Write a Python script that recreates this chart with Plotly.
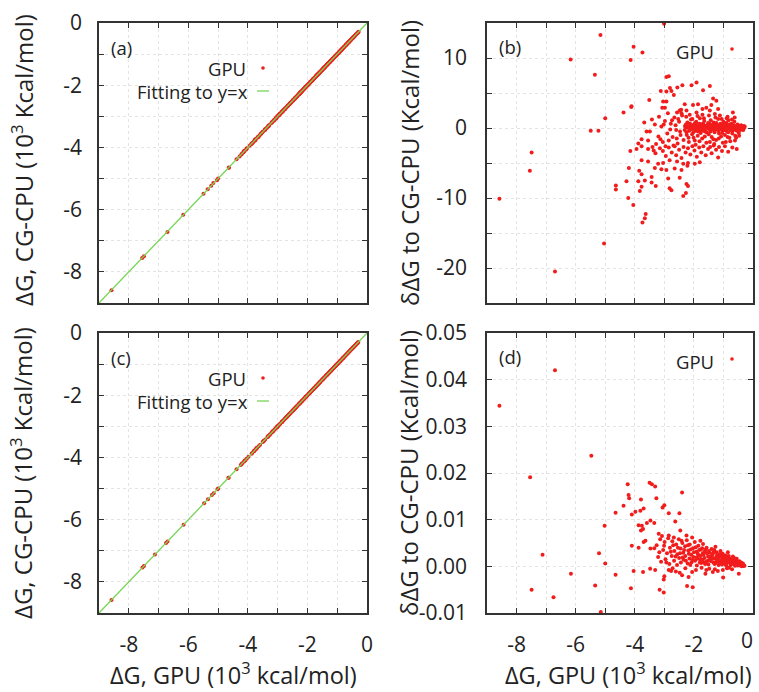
import plotly.graph_objects as go

W, H = 759, 692
FONT = "Open Sans"

# ---------------- data ----------------
# panel (b): GPU dG (10^3 kcal/mol), deltaG difference to CG-CPU (kcal/mol)
b_points = [
    (-8.58, -10.1), (-7.55, -6.1), (-7.49, -3.5), (-6.70, -20.5), (-6.17, 9.8),
    (-5.16, 13.3), (-5.35, 7.6), (-5.49, -0.4), (-5.23, -0.4), (-5.00, 1.4),
    (-5.04, -16.5), (-4.14, 9.7), (-4.04, 11.6), (-3.74, 10.8), (-3.01, 14.9),
    (-4.38, 2.2), (-4.12, 3.0), (-4.15, -3.3), (-4.64, -8.2), (-4.64, -8.8),
    (-4.28, -7.6), (-4.20, -5.7), (-4.22, -10.0), (-4.05, -11.0), (-3.63, -12.3),
    (-3.66, -12.9), (-3.74, -13.5), (-3.88, -7.6), (-3.66, -7.5), (-3.43, -7.8),
    (-3.29, -8.3), (-3.77, -8.4), (-3.83, -9.0), (-3.85, -6.1), (-3.77, -6.6),
    (-3.43, -7.0), (-2.87, -7.2), (-2.48, -7.1), (-2.82, -8.6), (-2.76, -8.9),
    (-2.25, -8.0), (-2.20, -8.3), (-2.27, -9.3), (-2.36, -9.7), (-3.32, -5.7),
    (-3.10, -5.9), (-2.93, -6.0), (-2.65, -5.8), (-2.42, -6.0), (-2.22, -5.4),
    (-3.77, -4.6), (-3.55, -4.8), (-3.21, -5.1), (-3.04, -5.0), (-2.82, -4.6),
    (-2.57, -4.8), (-2.36, -5.1), (-2.20, -5.0), (-1.97, -5.1), (-1.80, -4.9),
    (-0.84, -3.4), (-1.18, -4.2),
    (-3.77, -2.6), (-3.55, -3.0), (-3.40, -2.7), (-3.30, -3.6), (-3.15, -2.9),
    (-3.05, -3.3), (-2.95, -4.0), (-2.85, -2.8), (-2.75, -3.5), (-2.65, -2.6),
    (-2.60, -3.9), (-2.50, -3.1), (-2.42, -4.3), (-2.35, -2.7), (-2.28, -3.5),
    (-2.20, -2.9), (-2.12, -3.8), (-2.05, -2.6), (-1.98, -3.2), (-1.90, -4.1),
    (-1.82, -2.8), (-1.75, -3.5), (-1.68, -2.6), (-1.60, -3.9), (-1.52, -3.0),
    (-1.45, -2.7), (-1.40, -3.6), (-1.33, -2.5), (-1.25, -3.1), (-1.15, -2.7),
    (-1.05, -3.3), (-0.95, -2.6), (-0.70, -2.8), (-0.55, -3.0),
    (-2.93, 7.3), (-2.85, 7.4), (-4.11, 3.1), (-3.51, 4.0), (-3.12, 5.3),
    (-2.81, 5.7), (-2.56, 5.8), (-2.39, 6.1), (-2.08, 6.1), (-1.91, 6.5),
    (-1.46, 6.0), (-2.93, 5.2), (-2.76, 5.3), (-2.68, 4.7), (-1.69, 5.4),
    (-1.35, 4.2), (-1.24, 3.9), (-3.04, 3.8), (-2.93, 3.8), (-3.07, 2.9),
    (-2.98, 2.9), (-2.31, 3.4), (-2.48, 2.5), (-2.57, 2.2), (-2.42, 2.1),
    (-2.25, 2.5), (-2.03, 3.3), (-1.86, 3.4), (-1.71, 2.7), (-1.91, 2.2),
    (-1.58, 2.9), (-1.46, 2.5), (-1.41, 3.3), (-1.29, 2.0), (-1.18, 2.7),
    (-0.68, 2.2), (-0.62, 1.5), (-3.32, 0.5), (-3.49, -0.5), (-3.60, -0.5),
    (-3.77, -1.6), (-3.88, -2.2), (-3.94, -3.0),
    (-3.20, -1.2), (-3.10, 0.2), (-3.05, -2.0), (-2.98, 1.0), (-2.90, -0.8),
    (-2.85, -1.8), (-2.78, 0.6), (-2.72, -1.3), (-2.66, 1.5), (-2.60, -0.3),
    (-2.55, -2.2), (-2.50, 0.9), (-2.45, -1.0), (-2.40, 1.8), (-2.35, -1.7),
    (-2.30, 0.3),
    (-2.28, 0.1), (-2.25, -0.6), (-2.22, 0.8), (-2.18, -1.4), (-2.15, 0.3),
    (-2.12, -0.2), (-2.10, 1.2), (-2.06, -0.9), (-2.03, 0.0), (-2.00, 0.5),
    (-1.97, -1.8), (-1.95, -0.4), (-1.92, 0.9), (-1.90, 0.1), (-1.87, -1.1),
    (-1.85, 0.4), (-1.82, -0.2), (-1.80, 1.4), (-1.77, -0.7), (-1.75, 0.2),
    (-1.72, -1.5), (-1.70, 0.6), (-1.68, -0.1), (-1.65, 1.0), (-1.62, -0.5),
    (-1.60, 0.3), (-1.58, -2.1), (-1.55, 0.0), (-1.52, 0.7), (-1.50, -0.9),
    (-1.48, 0.2), (-1.45, -0.3), (-1.43, 1.1), (-1.40, -1.3), (-1.38, 0.4),
    (-1.35, -0.1), (-1.33, 0.8), (-1.30, -0.6), (-1.28, 0.1), (-1.25, -1.7),
    (-1.23, 0.5), (-1.20, -0.2), (-1.18, 1.3), (-1.15, -0.8), (-1.13, 0.0),
    (-1.10, 0.6), (-1.08, -1.2), (-1.05, 0.3), (-1.03, -0.4), (-1.00, 0.9),
    (-0.98, -0.1), (-0.95, -1.0), (-0.93, 0.2), (-0.90, 0.7), (-0.88, -0.5),
    (-0.85, 0.0), (-0.83, 1.1), (-0.80, -1.4), (-0.78, 0.3), (-0.75, -0.3),
    (-0.73, 0.6), (-0.70, -0.8), (-0.68, 0.1), (-0.65, -0.2), (-0.63, 0.9),
    (-0.60, -1.1), (-0.58, 0.3), (-0.55, -0.4), (-0.52, 0.5), (-0.50, 0.0),
    (-0.48, -0.7), (-0.45, 0.2), (-0.43, -0.2), (-0.40, 0.4), (-0.38, -0.1),
    (-0.35, 0.1), (-0.33, -0.3), (-0.30, 0.0), (-0.28, 0.2),
    (-2.21, 0.05), (-2.04, -0.1), (-1.83, 0.0), (-1.63, 0.15), (-1.41, 0.0),
    (-1.22, 0.1), (-1.01, -0.05), (-0.81, 0.05), (-0.62, 0.0), (-0.46, 0.05),
    (-1.94, -2.4), (-1.31, -2.3), (-0.92, -2.0), (-0.61, -1.8), (-1.71, 1.9),
    (-1.12, 1.8), (-0.86, 1.6), (-2.14, 1.9),
    (-2.31, -0.3), (-2.27, 0.5), (-2.24, -1.0), (-2.19, 0.2), (-2.16, -0.4),
    (-2.13, 0.6), (-2.09, -0.1), (-2.07, 0.3), (-2.02, -0.6), (-1.99, 0.2),
    (-1.96, 0.7), (-1.93, -0.2), (-1.89, 0.4), (-1.86, -0.5), (-1.84, 0.1),
    (-1.81, 0.6), (-1.78, -0.3), (-1.76, 0.3), (-1.73, 0.0), (-1.69, -0.4),
    (-1.67, 0.5), (-1.64, -0.1), (-1.61, 0.2), (-1.57, -0.6), (-1.54, 0.4),
    (-1.51, -0.1), (-1.47, 0.6), (-1.44, -0.5), (-1.42, 0.2), (-1.39, -0.2),
    (-1.36, 0.5), (-1.32, -0.3), (-1.29, 0.3), (-1.26, -0.1), (-1.24, 0.7),
    (-1.21, 0.0), (-1.17, -0.4), (-1.14, 0.4), (-1.11, -0.2), (-1.07, 0.1),
    (-1.04, -0.7), (-1.02, 0.5), (-0.99, 0.2), (-0.96, -0.3), (-0.94, 0.6),
    (-0.91, -0.1), (-0.87, 0.3), (-0.84, -0.6), (-0.82, 0.1), (-0.79, 0.5),
    (-0.76, -0.2), (-0.72, 0.2), (-0.69, -0.4), (-0.66, 0.4), (-0.64, 0.0),
    (-0.59, -0.2), (-0.56, 0.2), (-0.53, -0.1), (-0.49, 0.3), (-0.44, -0.3),
    (-0.41, 0.1), (-0.36, -0.2), (-0.31, 0.3),
    (-2.26, 1.6), (-2.05, 1.3), (-1.88, 1.7), (-1.66, 1.4), (-1.49, 1.8),
    (-1.27, 1.5), (-1.06, 1.3), (-0.89, 1.4), (-0.71, 1.2), (-2.17, -2.0),
    (-2.01, -1.4), (-1.81, -1.9), (-1.63, -1.2), (-1.46, -2.0), (-1.34, -1.6),
    (-1.16, -1.5), (-1.02, -2.1), (-0.86, -1.3), (-0.77, -1.9), (-0.57, -1.4),
    (-0.47, -1.1),
    (-3.28, -2.3), (-3.18, 1.6), (-3.13, -1.6), (-3.02, 0.5), (-2.96, -2.6),
    (-2.88, 2.1), (-2.80, -0.2), (-2.74, 1.1), (-2.69, -2.5), (-2.62, 0.4),
    (-2.58, -1.5), (-2.53, 1.3), (-2.47, -0.5), (-2.43, 2.6), (-3.42, 1.2),
    (-3.55, -1.8), (-3.68, 0.8), (-3.36, -3.2),
]

# panel (d): GPU dG (10^3 kcal/mol), deltaG difference to CG-CPU (kcal/mol)
d_points = [
    (-8.58, 0.0344), (-6.70, 0.0420), (-7.54, 0.0191), (-5.47, 0.0237),
    (-7.12, 0.0025), (-7.49, -0.0050), (-6.75, -0.0066), (-6.16, -0.0016),
    (-5.34, -0.0041), (-5.21, 0.0028), (-5.00, 0.0006), (-5.02, 0.0087),
    (-4.65, 0.0115), (-4.65, -0.0018), (-5.15, -0.0098),
    (-4.24, 0.0176), (-3.50, 0.0179), (-3.42, 0.0176), (-3.31, 0.0171),
    (-2.40, 0.0158), (-4.21, 0.0153), (-4.19, 0.0146), (-3.79, 0.0143),
    (-3.27, 0.0146), (-4.38, 0.0130), (-3.81, 0.0119), (-3.70, 0.0124),
    (-3.98, 0.0117), (-4.10, 0.0111), (-3.00, 0.0131), (-3.06, 0.0126),
    (-2.85, 0.0114), (-2.49, 0.0114), (-3.87, 0.0088), (-3.76, 0.0087),
    (-3.47, 0.0098), (-3.59, 0.0093), (-3.34, 0.0093), (-2.63, 0.0096),
    (-3.79, 0.0077), (-3.72, 0.0080), (-3.19, 0.0070), (-3.08, 0.0065),
    (-2.46, 0.0077), (-4.10, 0.0044), (-2.85, 0.0066), (-2.68, 0.0062),
    (-2.25, 0.0066), (-2.06, 0.0062), (-1.78, 0.0055), (-3.64, 0.0055),
    (-3.70, 0.0052), (-3.87, 0.0040), (-3.47, 0.0038), (-3.34, 0.0039),
    (-4.13, -0.0047), (-4.04, -0.0010), (-3.72, -0.0012), (-3.48, -0.0005),
    (-3.31, -0.0008), (-3.00, -0.0021), (-3.02, -0.0028), (-3.16, -0.0050),
    (-3.02, -0.0056), (-2.48, -0.0014), (-2.40, -0.0019), (-2.18, -0.0023),
    (-2.23, -0.0042), (-2.04, -0.0045), (-1.61, -0.0016), (-1.01, -0.0024),
    (-0.48, -0.0016), (-2.85, -0.0008), (-2.77, -0.0010),
    (-3.26, 0.0045), (-3.21, 0.0020), (-3.14, 0.0058), (-3.11, 0.0010),
    (-3.04, 0.0035), (-2.99, 0.0052), (-2.96, 0.0015), (-2.91, 0.0028),
    (-2.87, 0.0060), (-2.83, 0.0005), (-2.81, 0.0040), (-2.75, 0.0022),
    (-2.73, 0.0054), (-2.67, 0.0012), (-2.66, 0.0033), (-2.60, 0.0047),
    (-2.57, 0.0003), (-2.56, 0.0026), (-2.51, 0.0058), (-2.50, 0.0018),
    (-2.45, 0.0038), (-2.44, 0.0008), (-2.39, 0.0050), (-2.36, 0.0029),
    (-2.35, 0.0014), (-2.30, 0.0043), (-2.29, 0.0022), (-2.24, 0.0056),
    (-2.21, 0.0006), (-2.19, 0.0034), (-2.15, 0.0017), (-2.14, 0.0047),
    (-2.09, 0.0025), (-2.08, 0.0009), (-2.03, 0.0039), (-2.02, 0.0020),
    (-1.97, 0.0052), (-1.96, 0.0012), (-1.91, 0.0031), (-1.90, 0.0002),
    (-1.85, 0.0044), (-1.84, 0.0024), (-1.79, 0.0015), (-1.76, 0.0036),
    (-1.75, 0.0007), (-1.70, 0.0028), (-1.69, 0.0048), (-1.64, 0.0018),
    (-1.63, 0.0032), (-1.58, 0.0010), (-1.57, 0.0040), (-1.52, 0.0021),
    (-1.51, 0.0004), (-1.46, 0.0029), (-1.45, 0.0014), (-1.40, 0.0037),
    (-1.39, 0.0022), (-1.34, 0.0008), (-1.33, 0.0030), (-1.28, 0.0016),
    (-1.27, 0.0042), (-1.22, 0.0011), (-1.21, 0.0025), (-1.16, 0.0003),
    (-1.15, 0.0020), (-1.10, 0.0033), (-1.09, 0.0009), (-1.04, 0.0018),
    (-1.03, 0.0027), (-0.98, 0.0006), (-0.97, 0.0015), (-0.92, 0.0023),
    (-0.91, 0.0002), (-0.86, 0.0012), (-0.85, 0.0030), (-0.80, 0.0008),
    (-0.79, 0.0017), (-0.74, 0.0004), (-0.73, 0.0011), (-0.68, 0.0021),
    (-0.67, 0.0006), (-0.62, 0.0013), (-0.61, 0.0001), (-0.56, 0.0009),
    (-0.55, 0.0016), (-0.50, 0.0004), (-0.49, 0.0008), (-0.44, 0.0002),
    (-0.43, 0.0006), (-0.38, 0.0000), (-0.37, 0.0004), (-0.32, 0.0001),
    (-0.31, 0.0002), (-1.93, -0.0008), (-1.48, -0.0005), (-1.19, -0.0010),
    (-0.88, -0.0004), (-2.61, -0.0011), (-1.74, -0.0003), (-0.71, -0.0006),
    (-1.36, -0.0012), (-2.12, 0.0003), (-1.88, 0.0016), (-1.66, 0.0009),
    (-1.43, 0.0019), (-1.25, 0.0007), (-1.06, 0.0013), (-0.95, 0.0009),
    (-2.33, 0.0035), (-2.27, 0.0012), (-2.20, 0.0045), (-2.17, 0.0027),
    (-2.11, 0.0036), (-2.05, 0.0014), (-2.00, 0.0030), (-1.94, 0.0041),
    (-1.92, 0.0019), (-1.87, 0.0027), (-1.82, 0.0035), (-1.80, 0.0008),
    (-1.77, 0.0022), (-1.72, 0.0039), (-1.71, 0.0014), (-1.67, 0.0025),
    (-1.62, 0.0005), (-1.60, 0.0036), (-1.55, 0.0028), (-1.53, 0.0012),
    (-1.49, 0.0033), (-1.47, 0.0020), (-1.42, 0.0011), (-1.37, 0.0026),
    (-1.35, 0.0017), (-1.31, 0.0035), (-1.30, 0.0005), (-1.24, 0.0021),
    (-1.23, 0.0030), (-1.18, 0.0014), (-1.13, 0.0026), (-1.12, 0.0008),
    (-1.08, 0.0021), (-1.05, 0.0004), (-1.00, 0.0016), (-0.99, 0.0024),
    (-0.94, 0.0012), (-0.90, 0.0018), (-0.89, 0.0007), (-0.83, 0.0014),
    (-0.82, 0.0022), (-0.77, 0.0010), (-0.76, 0.0003), (-0.70, 0.0015),
    (-0.65, 0.0009), (-0.64, 0.0018), (-0.59, 0.0006), (-0.58, 0.0012),
    (-0.53, 0.0010), (-0.52, 0.0002), (-0.47, 0.0005), (-0.46, 0.0011),
    (-0.41, 0.0003), (-0.40, 0.0008), (-0.35, 0.0002), (-0.34, 0.0006),
    (-0.29, 0.0001), (-3.17, 0.0030), (-3.01, 0.0044), (-2.93, 0.0008),
    (-2.78, 0.0031), (-2.70, 0.0045), (-2.62, 0.0021), (-2.54, 0.0040),
    (-2.47, 0.0028), (-2.42, 0.0055), (-2.38, 0.0019), (-1.58, -0.0008),
    (-1.29, -0.0006), (-1.02, -0.0008), (-0.81, -0.0003), (-2.29, -0.0004),
    (-2.06, -0.0012), (-2.72, -0.0004),
]

fit_x = [-9, 0]
fit_y = [-9, 0]

gpu_b = [p[0] for p in b_points]
delta_b = [p[1] for p in b_points]
gpu_d = [p[0] for p in d_points]
delta_d = [p[1] for p in d_points]
# CG-CPU free energy (10^3 kcal/mol): GPU value plus the small difference
cpu_a = [g + d / 1000.0 for g, d in zip(gpu_b, delta_b)]
cpu_c = [g + d / 1000.0 for g, d in zip(gpu_d, delta_d)]

xy_tickvals = [-8, -6, -4, -2, 0]
xy_ticktext = ["-8", "-6", "-4", "-2", "0"]
xd_tickvals = [-8, -6, -4, -2]
xd_ticktext = ["-8", "-6", "-4", "-2"]
xd_last_label = "0"
b_tickvals = [-20, -10, 0, 10]
b_ticktext = ["-20", "-10", "0", "10"]
d_tickvals = [-0.01, 0.0, 0.01, 0.02, 0.03, 0.04, 0.05]
d_ticktext = ["-0.01", "0.00", "0.01", "0.02", "0.03", "0.04", "0.05"]

RED = "#f21c1c"
GREEN = "#77d455"
GRID = "#e4e4e4"
AX = "#333333"
TXT = "#222222"

# ---------------- layout geometry (pixels) ----------------
def fx(px):
    return px / W

def fy(py):
    return 1 - py / H

LEFT = (99, 367)
RIGHT = (487, 753)
TOP = (23, 303)
BOT = (333, 613)

fig = go.Figure()
mk = dict(size=4, color=RED, line=dict(width=0))
fig.add_trace(go.Scatter(x=gpu_b, y=cpu_a, mode="markers", marker=mk, xaxis="x", yaxis="y", showlegend=False))
fig.add_trace(go.Scatter(x=fit_x, y=fit_y, mode="lines", line=dict(color=GREEN, width=1.3), xaxis="x", yaxis="y", showlegend=False))
fig.add_trace(go.Scatter(x=gpu_b, y=delta_b, mode="markers", marker=mk, xaxis="x2", yaxis="y2", showlegend=False))
fig.add_trace(go.Scatter(x=gpu_d, y=cpu_c, mode="markers", marker=mk, xaxis="x3", yaxis="y3", showlegend=False))
fig.add_trace(go.Scatter(x=fit_x, y=fit_y, mode="lines", line=dict(color=GREEN, width=1.3), xaxis="x3", yaxis="y3", showlegend=False))
fig.add_trace(go.Scatter(x=gpu_d, y=delta_d, mode="markers", marker=mk, xaxis="x4", yaxis="y4", showlegend=False))

def minor(dt):
    return dict(tickmode="linear", tick0=0, dtick=dt, ticks="inside", ticklen=5, tickwidth=1,
                tickcolor=AX, showgrid=True, gridcolor=GRID, griddash="dot", gridwidth=1)

def ax(**kw):
    base = dict(
        showline=True, linecolor=AX, linewidth=1.5, mirror="allticks",
        ticks="inside", ticklen=5, tickwidth=1, tickcolor=AX,
        showgrid=True, gridcolor=GRID, griddash="dot", gridwidth=1,
        zeroline=False, tickmode="array", automargin=False,
        tickfont=dict(family=FONT, size=21, color=TXT),
        fixedrange=True,
    )
    base.update(kw)
    return base

xr = dict(range=[-9, 0], minor=minor(1))
fig.update_layout(
    template="none",
    width=W, height=H,
    margin=dict(l=0, r=0, t=0, b=0, pad=0, autoexpand=False),
    paper_bgcolor="white", plot_bgcolor="white",
    showlegend=False,
    xaxis=ax(domain=[fx(LEFT[0]), fx(LEFT[1])], anchor="y", showticklabels=False,
             tickvals=xy_tickvals, ticktext=xy_ticktext, **xr),
    yaxis=ax(domain=[fy(TOP[1]), fy(TOP[0])], anchor="x", tickvals=xy_tickvals, ticktext=xy_ticktext,
             ticklabelstandoff=11, **xr),
    xaxis2=ax(domain=[fx(RIGHT[0]), fx(RIGHT[1])], anchor="y2", showticklabels=False,
              tickvals=xy_tickvals, ticktext=xy_ticktext, **xr),
    yaxis2=ax(domain=[fy(TOP[1]), fy(TOP[0])], anchor="x2", tickvals=b_tickvals, ticktext=b_ticktext,
              range=[-25, 15], minor=minor(5), ticklabelstandoff=14),
    xaxis3=ax(domain=[fx(LEFT[0]), fx(LEFT[1])], anchor="y3", ticklabelstandoff=12,
              tickvals=xy_tickvals, ticktext=xy_ticktext, **xr),
    yaxis3=ax(domain=[fy(BOT[1]), fy(BOT[0])], anchor="x3", tickvals=xy_tickvals, ticktext=xy_ticktext,
              ticklabelstandoff=11, **xr),
    xaxis4=ax(domain=[fx(RIGHT[0]), fx(RIGHT[1])], anchor="y4", ticklabelstandoff=12,
              tickvals=xd_tickvals, ticktext=xd_ticktext, **xr),
    yaxis4=ax(domain=[fy(BOT[1]), fy(BOT[0])], anchor="x4", tickvals=d_tickvals, ticktext=d_ticktext,
              range=[-0.01, 0.05], ticklabelstandoff=14),
)

ann = []
def text(px, py, s, size=18.5, xanchor="left", angle=0):
    ann.append(dict(x=fx(px), y=fy(py), xref="paper", yref="paper", text=s, showarrow=False,
                    xanchor=xanchor, yanchor="middle", textangle=angle, borderpad=0,
                    font=dict(family=FONT, size=size, color=TXT)))

shapes = []
def dot(px, py):
    r = 1.8
    shapes.append(dict(type="circle", xref="paper", yref="paper",
                       x0=fx(px - r), x1=fx(px + r), y0=fy(py + r), y1=fy(py - r),
                       fillcolor=RED, line=dict(width=0)))

def seg(px0, px1, py):
    shapes.append(dict(type="line", xref="paper", yref="paper",
                       x0=fx(px0), x1=fx(px1), y0=fy(py), y1=fy(py),
                       line=dict(color=GREEN, width=1.3)))

for top, lab in ((TOP[0], "(a)"), (BOT[0], "(c)")):
    text(110, top + 24, lab)
    text(247, top + 45, "GPU", xanchor="right")
    text(249, top + 68.5, "Fitting to y=x", xanchor="right")
    dot(263, top + 45)
    seg(257, 269, top + 68)

for top, lab in ((TOP[0], "(b)"), (BOT[0], "(d)")):
    text(498, top + 23, lab)
    text(715, top + 28, "GPU", xanchor="right")
    dot(732, top + 26)

# last x tick label of panel (d), drawn slightly inside the page edge as in the reference
text(747, 640, xd_last_label, size=21, xanchor="center")

ytitle_l = "ΔG, CG-CPU (10<sup>3</sup> Kcal/mol)"
ytitle_r = "δΔG to CG-CPU (Kcal/mol)"
xtitle = "ΔG, GPU (10<sup>3</sup> kcal/mol)"
YS = 24
XS = 23.5
text(22, (TOP[0] + TOP[1]) / 2 - 3, ytitle_l, size=YS, xanchor="center", angle=-90)
text(22, (BOT[0] + BOT[1]) / 2, ytitle_l, size=YS, xanchor="center", angle=-90)
text(409, (TOP[0] + TOP[1]) / 2, ytitle_r, size=YS, xanchor="center", angle=-90)
text(409, (BOT[0] + BOT[1]) / 2, ytitle_r, size=YS, xanchor="center", angle=-90)
text((LEFT[0] + LEFT[1]) / 2, 673, xtitle, size=XS, xanchor="center")
text((RIGHT[0] + RIGHT[1]) / 2 + 8, 673, xtitle, size=XS, xanchor="center")

fig.update_layout(annotations=ann, shapes=shapes)
fig.write_html("out.html",
               config={"displayModeBar": False},
               post_script="document.body.style.margin='0px';document.body.style.overflow='hidden';")
